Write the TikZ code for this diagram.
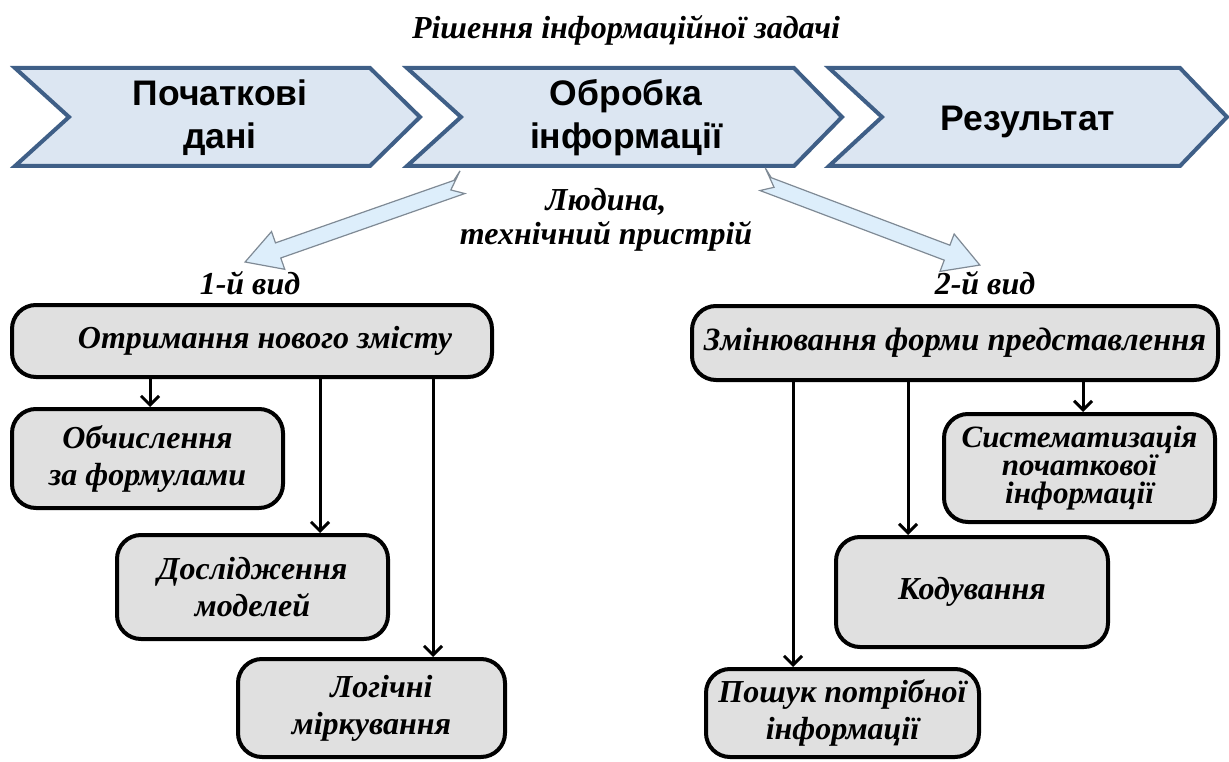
\documentclass[tikz,border=0pt]{standalone}
\usepackage{fontspec}
\setmainfont{Liberation Serif}
\newfontfamily\hsans{Liberation Sans}
\usetikzlibrary{arrows.meta,calc}
\definecolor{chevfill}{HTML}{DCE6F2}
\definecolor{chevline}{HTML}{3F5F87}
\definecolor{boxfill}{HTML}{E0E0E0}
\definecolor{boltfill}{HTML}{DDEEFB}
\definecolor{boltline}{HTML}{7F8A95}
\begin{document}
\begin{tikzpicture}[x=1pt,y=-1pt,
 chev/.style={fill=chevfill,draw=chevline,line width=4pt,line join=miter},
 chevtext/.style={font=\hsans\bfseries\fontsize{35.5}{43}\selectfont,align=center},
 lbl/.style={font=\bfseries\itshape\fontsize{32}{34}\selectfont,align=center},
 box/.style={draw=black,fill=boxfill,line width=4pt,rounded corners=24pt,align=center,
   font=\bfseries\itshape\fontsize{32}{37}\selectfont,inner sep=0pt},
 arr/.style={line width=3pt,-{Straight Barb[length=9pt,width=18pt,line width=3pt]}},
 bolt/.style={fill=boltfill,draw=boltline,line width=1.2pt,line join=miter}]
\useasboundingbox (0,0) rectangle (1229,762);

\node[lbl] (title) at (626,30) {Рішення інформаційної задачі};

\draw[chev] (15,68) -- (370,68) -- (420,117) -- (370,166) -- (15,166) -- (69,117) -- cycle;
\draw[chev] (407,68) -- (794,68) -- (842,117) -- (794,166) -- (407,166) -- (461,117) -- cycle;
\draw[chev] (829,68) -- (1180,68) -- (1227,117) -- (1180,166) -- (829,166) -- (882,117) -- cycle;
\node[chevtext] (pd) at (220,118) {Початкові\\дані};
\node[chevtext] (ob) at (626,118) {Обробка\\інформації};
\node[chevtext] (rez) at (1028,122) {Результат};

\begin{scope}[shift={(465,185)},rotate=199.3]
\draw[bolt] (0,15) -- (15,0) -- (3,-8) -- (198,-8) -- (198,-20) -- (233,0) -- (198,20) -- (198,8) -- (9,8) -- cycle;
\end{scope}
\begin{scope}[shift={(760,182)},rotate=-20.7]
\draw[bolt] (0,-15) -- (15,0) -- (3,8) -- (200,8) -- (200,20) -- (235,0) -- (200,-20) -- (200,-8) -- (9,-8) -- cycle;
\end{scope}

\node[lbl] (lyud) at (606,220) {Людина,\\технічний пристрій};
\node[lbl] (vid1) at (250,283) {1-й вид};
\node[lbl] (vid2) at (985,283) {2-й вид};

\node[box,minimum width=480pt,minimum height=72pt] (otr) at (252,341) {\hspace*{26pt}Отримання нового змісту};
\node[box,minimum width=526pt,minimum height=74pt,font=\bfseries\itshape\fontsize{32.5}{37}\selectfont] (zmin) at (955,343) {Змінювання форми представлення};
\node[box,minimum width=271pt,minimum height=99pt] (obch) at (147.5,458.5) {Обчислення\\за формулами};
\node[box,minimum width=271pt,minimum height=104pt] (dosl) at (252.5,587) {Дослідження\\моделей};
\node[box,minimum width=267pt,minimum height=98pt] (log) at (371.5,708) {\hspace*{20pt}Логічні\\міркування};
\node[box,minimum width=271pt,minimum height=108pt,font=\bfseries\itshape\fontsize{31}{28}\selectfont] (sys) at (1079.5,468) {Систематизація\\початкової\\інформації};
\node[box,minimum width=272pt,minimum height=110pt] (kod) at (972,592) {Кодування};
\node[box,minimum width=273pt,minimum height=88pt] (posh) at (842.5,713) {Пошук потрібної\\інформації};

\coordinate (xa) at (150,0);
\coordinate (xb) at (320,0);
\coordinate (xc) at (433,0);
\coordinate (xd) at (793,0);
\coordinate (xe) at (908,0);
\coordinate (xf) at (1083,0);
\draw[arr] (otr.south -| xa) -- (obch.north -| xa);
\draw[arr] (otr.south -| xb) -- (dosl.north -| xb);
\draw[arr] (otr.south -| xc) -- (log.north -| xc);
\draw[arr] (zmin.south -| xd) -- (posh.north -| xd);
\draw[arr] (zmin.south -| xe) -- (kod.north -| xe);
\draw[arr] (zmin.south -| xf) -- (sys.north -| xf);
\end{tikzpicture}
\end{document}
